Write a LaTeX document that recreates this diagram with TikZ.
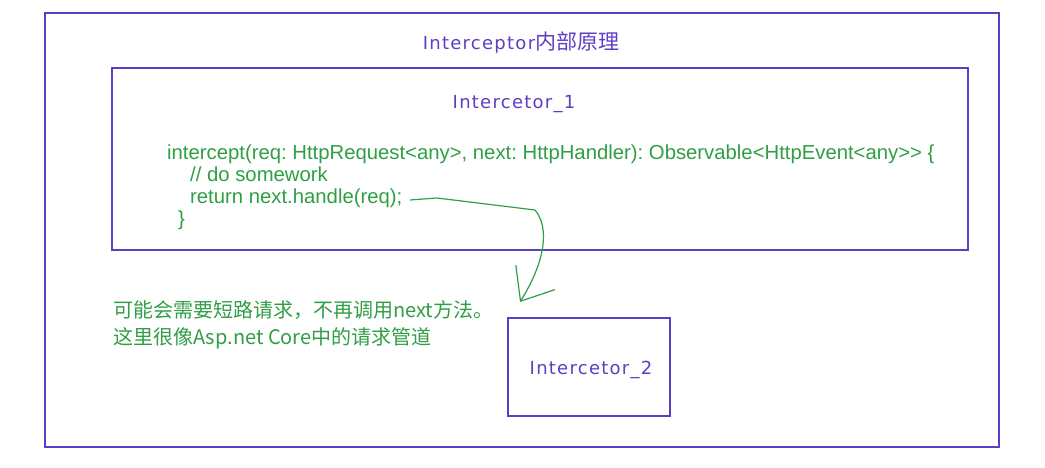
\documentclass[tikz,border=0pt]{standalone}
\usepackage{fontspec}
\setmainfont{Liberation Sans}
\newfontfamily\cjk{Noto Sans CJK SC}
\newfontfamily\hand[LetterSpace=7]{DejaVu Sans}
\usetikzlibrary{arrows.meta}
\definecolor{sketchviolet}{HTML}{5F3DC4}
\definecolor{sketchgreen}{HTML}{2F9E44}
\frenchspacing

\begin{document}
\begin{tikzpicture}[
x=1pt, y=-1pt,
frame/.style={
draw=sketchviolet,
line width=1.2pt,
inner sep=0pt
},
label/.style={
text=sketchviolet,
font=\hand\fontsize{18}{20}\selectfont
},
code/.style={
text=sketchgreen,
align=left,
inner sep=0pt,
font=\fontsize{20.3}{21.7}\selectfont
},
note/.style={
text=sketchgreen,
align=left,
inner sep=0pt,
font=\cjk\fontsize{20}{27}\selectfont
},
flow/.style={
draw=sketchgreen,
line width=1.2pt,
line join=round,
-{Straight Barb[length=28pt,width=46pt]}
}
]
\useasboundingbox (0,0) rectangle (1045,468);

\node[frame, minimum width=954pt, minimum height=434pt] (outer) at (522,230) {};

\node[label] (title) at (521,43)
{Interceptor{\cjk\fontsize{21}{21}\selectfont 内部原理}};

\node[frame, minimum width=856pt, minimum height=182pt] (first) at (540,159) {};

\node[label] (firstname) at (514,104)
{Intercetor\_1};

\node[code, anchor=north west] (body) at (167,145)
{intercept(req: HttpRequest<any>, next: HttpHandler): Observable<HttpEvent<any>{}> \{\\
\hspace*{23pt}// do somework\\
\hspace*{23pt}return next.handle(req);\\
\hspace*{11pt}\}};

\node[frame, minimum width=162pt, minimum height=98pt] (second) at (589,367) {};

\node[label] (secondname) at (591,370)
{Intercetor\_2};

\node[note, anchor=north west] (shortcut) at (113,300)
{可能会需要短路请求，不再调用next方法。\\
这里很像Asp.net Core中的请求管道};

\coordinate (ret) at (410,200);
\coordinate (tip) at (520,302);

\draw[flow] (ret) -- (437,198) -- (535,210)
.. controls (550,228) and (545,262) .. (tip);

\end{tikzpicture}
\end{document}
